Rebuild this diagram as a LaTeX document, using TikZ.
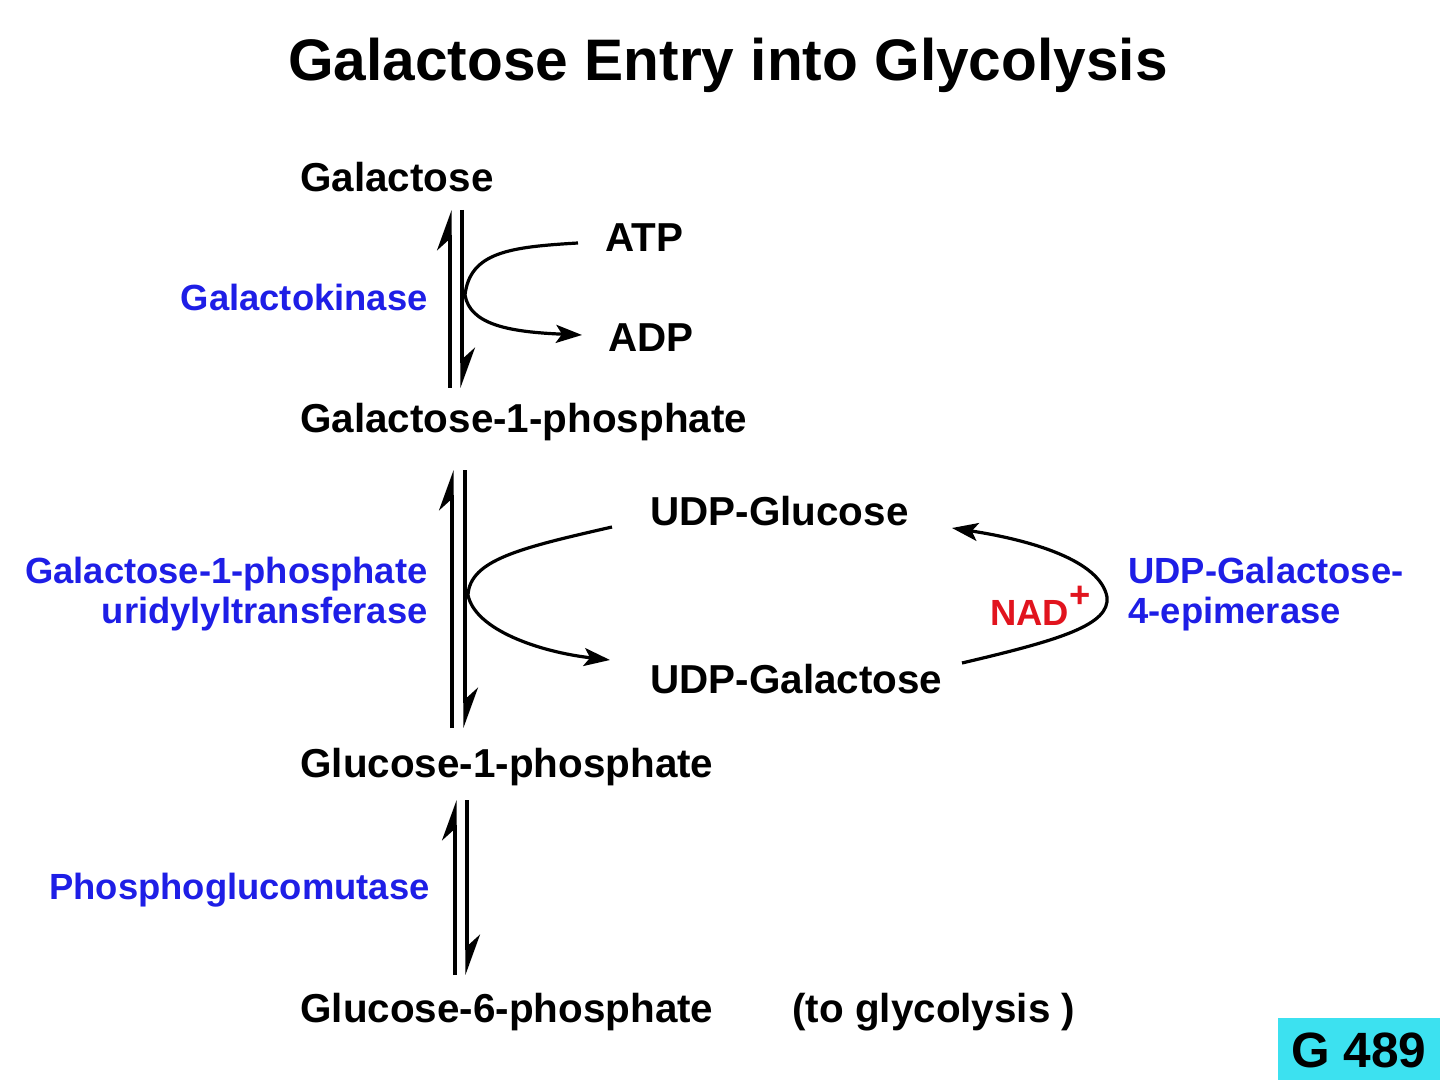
\documentclass[tikz,border=0pt]{standalone}
\usepackage{fontspec}
\setmainfont{Liberation Sans}
\usetikzlibrary{arrows.meta}
\definecolor{eblue}{RGB}{30,30,230}
\definecolor{nred}{RGB}{225,20,30}
\definecolor{gcyan}{RGB}{60,225,240}
\begin{document}
\begin{tikzpicture}[x=0.5pt,y=-0.5pt,
  met/.style={font=\fontsize{20.2}{22}\selectfont\bfseries,inner sep=0pt,anchor=west},
  enz/.style={font=\fontsize{18.2}{20}\selectfont\bfseries,text=eblue,inner sep=0pt},
  ln/.style={line width=1.6pt},
  hup/.style={ln,-{Stealth[harpoon,length=18pt,width=13pt]}},
  arr/.style={ln,-{Stealth[length=13pt,width=9pt,inset=3pt]}}]
\useasboundingbox (0,0) rectangle (1440,1080);
\node[font=\fontsize{29.3}{32}\selectfont\bfseries] (title) at (728,65) {Galactose Entry into Glycolysis};
\node[met] (gal) at (300,177) {Galactose};
\node[met] (g1p) at (300,422) {Galactose-1-phosphate};
\node[met] (udpglc) at (650,511) {UDP-Glucose};
\node[met] (udpgal) at (650,679) {UDP-Galactose};
\node[met] (glc1p) at (300,767) {Glucose-1-phosphate};
\node[met] (glc6p) at (300,1012) {Glucose-6-phosphate};
\node[met] (togly) at (792,1012) {(to glycolysis )};
\node[met] (atp) at (605,238) {ATP};
\node[met] (adp) at (608,338) {ADP};
\node[enz,anchor=east] (gk) at (428,297) {Galactokinase};
\node[enz,anchor=east,align=right] (gut) at (428,594) {Galactose-1-phosphate\\uridylyltransferase};
\node[enz,anchor=east] (pgm) at (430,890) {Phosphoglucomutase};
\node[enz,anchor=west,align=left] (epi) at (1128,594) {UDP-Galactose-\\4-epimerase};
\node[font=\fontsize{18.2}{20}\selectfont\bfseries,text=nred,inner sep=0pt,anchor=west] (nad) at (990,606) {NAD\raisebox{0.5em}{+}};
\fill[gcyan] (1278,1018) rectangle (1440,1080);
\node[font=\fontsize{24.8}{26}\selectfont\bfseries,inner sep=0pt] (g489) at (1359,1050) {G 489};
% reaction 1
\coordinate (a1t) at (450,210); \coordinate (a1b) at (450,388);
\coordinate (b1t) at (462,210); \coordinate (b1b) at (462,388);
\draw[hup] (a1b) -- (a1t);
\draw[hup] (b1t) -- (b1b);
\coordinate (atpe) at (578,243); \coordinate (adpe) at (582,335);
\draw[arr] (atpe) .. controls (510,247) and (470,252) .. (465,295) .. controls (470,325) and (510,332) .. (adpe);
% reaction 2
\coordinate (a2t) at (452,470); \coordinate (a2b) at (452,728);
\coordinate (b2t) at (465,470); \coordinate (b2b) at (465,728);
\draw[hup] (a2b) -- (a2t);
\draw[hup] (b2t) -- (b2b);
\coordinate (ugce) at (612,527); \coordinate (ugae) at (610,660);
\draw[arr] (ugce) .. controls (520,548) and (470,560) .. (468,595) .. controls (475,630) and (540,652) .. (ugae);
% epimerase
\coordinate (eps) at (962,663); \coordinate (epe) at (952,528);
\draw[arr] (eps) .. controls (1060,640) and (1110,625) .. (1107,597) .. controls (1100,560) and (1030,540) .. (epe);
% reaction 3
\coordinate (a3t) at (455,800); \coordinate (a3b) at (455,975);
\coordinate (b3t) at (467,800); \coordinate (b3b) at (467,975);
\draw[hup] (a3b) -- (a3t);
\draw[hup] (b3t) -- (b3b);
\end{tikzpicture}
\end{document}
